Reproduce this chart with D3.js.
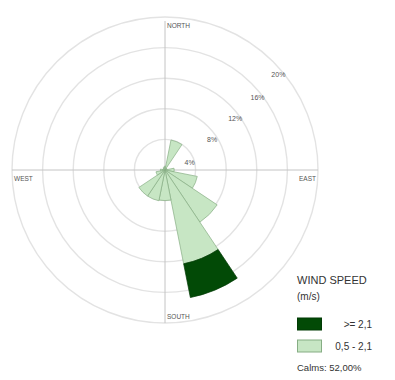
<!DOCTYPE html>
<html>
<head>
<meta charset="utf-8">
<script src="https://cdn.jsdelivr.net/npm/d3@7"></script>
<style>
  html, body { margin: 0; padding: 0; background: #fff; }
  svg { display: block; font-family: "Liberation Sans", Arial, sans-serif; }
</style>
</head>
<body>
<svg id="rose" width="395" height="380"></svg>
<script>
// Wind rose: frequency (%) per 22.5° sector, by wind-speed class
const directions = ["N","NNE","NE","ENE","E","ESE","SE","SSE","S","SSW","SW","WSW","W","WNW","NW","NNW"];
const lowSpeed  = [0.5, 4.0, 0.3, 0.3, 1.2, 4.3, 8.2, 12.5, 4.0, 4.1, 4.1, 1.2, 0.6, 0.3, 0.3, 0.4]; // 0,5 - 2,1 m/s
const highSpeed = [0, 0, 0, 0, 0, 0, 0, 4.5, 0, 0, 0, 0, 0, 0, 0, 0];                        // >= 2,1 m/s
const ringTicks = [4, 8, 12, 16, 20];
const ringLabels = ["4%", "8%", "12%", "16%", "20%"];
const compassLabels = ["NORTH", "EAST", "SOUTH", "WEST"];
const speedClasses = [">= 2,1", "0,5 -  2,1"];
const calmsText = "Calms: 52,00%";

const svg = d3.select("#rose");
const cx = 165, cy = 170, outerR = 153;

const r = d3.scaleLinear().domain([0, 20]).range([0, outerR]);
const angle = d3.scaleBand().domain(directions).range([0, 2 * Math.PI]);
const half = angle.bandwidth() / 2;

const g = svg.append("g").attr("transform", `translate(${cx},${cy})`);

// grid rings
g.selectAll("circle.ring").data(ringTicks).enter().append("circle")
  .attr("class", "ring")
  .attr("r", d => r(d))
  .attr("fill", "none")
  .attr("stroke", "#e3e3e3")
  .attr("stroke-width", 1.4);

// axes
g.append("line").attr("x1", 0).attr("x2", 0).attr("y1", -r(20) + 4).attr("y2", r(20))
  .attr("stroke", "#c4c4c4").attr("stroke-width", 1);
g.append("line").attr("x1", -r(20)).attr("x2", r(20)).attr("y1", 0).attr("y2", 0)
  .attr("stroke", "#c4c4c4").attr("stroke-width", 1);

// stacked sectors
const arc = d3.arc();
const stacked = directions.map((d, i) => ({
  dir: d,
  low: lowSpeed[i],
  high: highSpeed[i]
}));

const sectors = g.append("g");
stacked.forEach(s => {
  const a0 = angle(s.dir) - half, a1 = angle(s.dir) + half;
  sectors.append("path")
    .attr("d", arc({ innerRadius: 0, outerRadius: r(s.low), startAngle: a0, endAngle: a1 }))
    .attr("fill", "#c7e6c4")
    .attr("stroke", "#86ad84")
    .attr("stroke-width", 0.7);
  if (s.high > 0) {
    sectors.append("path")
      .attr("d", arc({ innerRadius: r(s.low), outerRadius: r(s.low + s.high), startAngle: a0, endAngle: a1 }))
      .attr("fill", "#024a06")
      .attr("stroke", "#013a04")
      .attr("stroke-width", 0.7);
  }
});

// ring percentage labels along the north-east diagonal
const labelBearing = { 4: 74, 8: 57, 12: 54, 16: 52, 20: 50 };
g.selectAll("text.ringlab").data(ringTicks).enter().append("text")
  .attr("class", "ringlab")
  .attr("x", d => (r(d) - 5) * Math.sin(labelBearing[d] * Math.PI / 180))
  .attr("y", d => -(r(d) - 5) * Math.cos(labelBearing[d] * Math.PI / 180))
  .attr("dy", "0.35em")
  .attr("text-anchor", "middle")
  .attr("font-size", 7)
  .attr("fill", "#555")
  .text((d, i) => ringLabels[i]);

// compass labels just inside the outer ring
const compass = [
  { t: compassLabels[0], x: 2, y: -r(20) + 11, anchor: "start" },
  { t: compassLabels[1], x: r(20) - 2, y: 11, anchor: "end" },
  { t: compassLabels[2], x: 2, y: r(20) - 4, anchor: "start" },
  { t: compassLabels[3], x: -r(20) + 2, y: 11, anchor: "start" }
];
g.selectAll("text.compass").data(compass).enter().append("text")
  .attr("class", "compass")
  .attr("x", d => d.x).attr("y", d => d.y)
  .attr("text-anchor", d => d.anchor)
  .attr("font-size", 6.5)
  .attr("fill", "#555")
  .text(d => d.t);

// legend
const leg = svg.append("g").attr("transform", "translate(297,0)");
leg.append("text").attr("x", 0).attr("y", 284).attr("font-size", 11).attr("fill", "#333").text("WIND SPEED");
leg.append("text").attr("x", 0).attr("y", 300).attr("font-size", 10).attr("fill", "#333").text("(m/s)");
const legColors = [["#024a06", "#013a04"], ["#c7e6c4", "#86ad84"]];
speedClasses.forEach((c, i) => {
  const y = 318 + i * 22;
  leg.append("rect").attr("x", 0.5).attr("y", y).attr("width", 24).attr("height", 12)
    .attr("fill", legColors[i][0]).attr("stroke", legColors[i][1]).attr("stroke-width", 1);
  leg.append("text").attr("x", 75).attr("y", y + 10).attr("text-anchor", "end")
    .attr("font-size", 10).attr("fill", "#333").text(c);
});
leg.append("text").attr("x", 0).attr("y", 371).attr("font-size", 9.5).attr("fill", "#333").text(calmsText);
</script>
</body>
</html>
